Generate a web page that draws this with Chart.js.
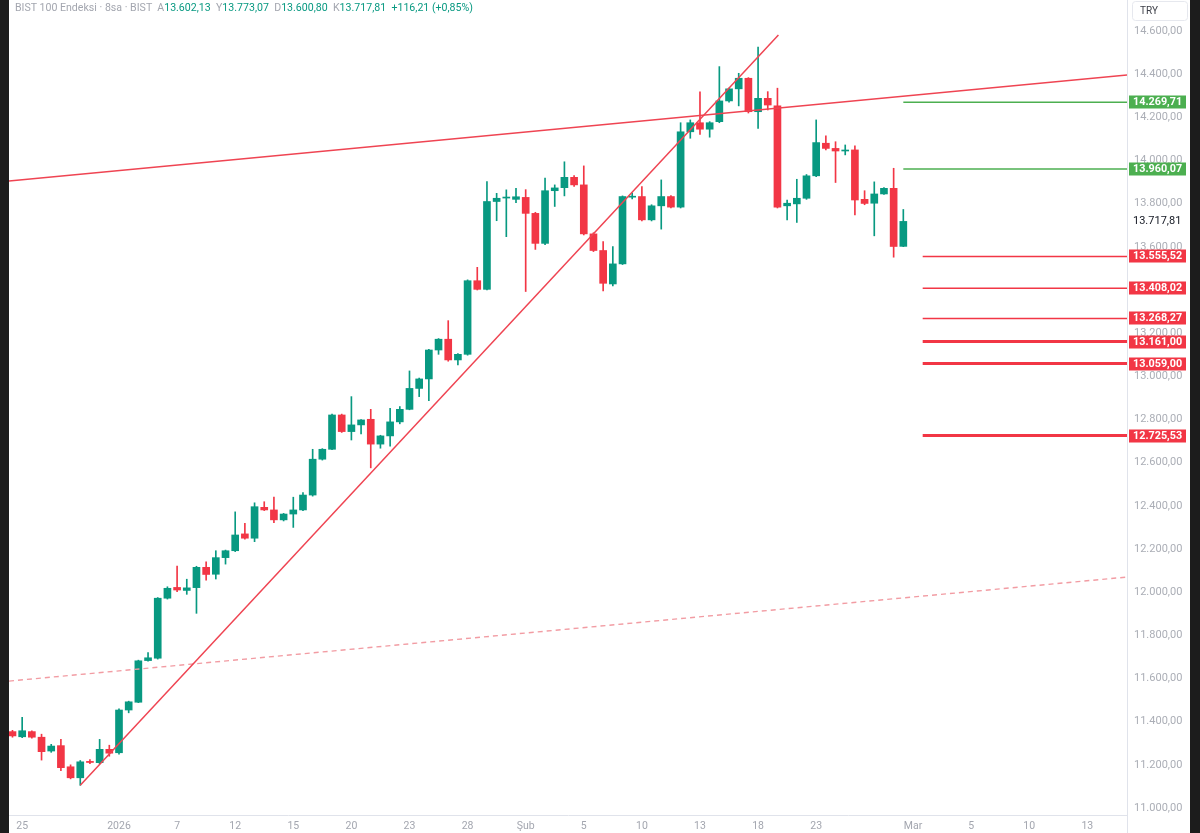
<!DOCTYPE html>
<html lang="tr">
<head>
<meta charset="UTF-8">
<title>BIST 100 Endeksi · 8sa</title>
<script src="https://cdn.jsdelivr.net/npm/chart.js"></script>
<style>
  html, body { margin: 0; padding: 0; background: #1c1c1c; }
  #wrap { position: absolute; left: 9px; top: 0; width: 1181px; height: 833px; background: #fff; }
  #legend { position: absolute; left: 6px; top: 1px; font: 10.6px Roboto, sans-serif; line-height: 14px; color: #a3a6af; white-space: pre; }
  #legend .v { color: #089981; }
</style>
</head>
<body>
<div id="wrap">
  <canvas id="chart"></canvas>
  <div id="legend">BIST 100 Endeksi · 8sa · BIST  A<span class="v">13.602,13</span>  Y<span class="v">13.773,07</span>  D<span class="v">13.600,80</span>  K<span class="v">13.717,81</span>  <span class="v">+116,21 (+0,85%)</span></div>
</div>
<script>
// 8 hour candles, 24 Ara 2025 (2nd bar) .. 27 Şub 2026
const opens = [11354, 11330, 11354, 11328, 11264, 11289, 11191, 11140, 11216, 11210,
  11272, 11256, 11454, 11490, 11683, 11694, 11972, 12022, 12008, 12021,
  12115, 12083, 12160, 12192, 12270, 12250, 12393, 12381, 12335, 12362,
  12381, 12450, 12616, 12662, 12821, 12744, 12775, 12801, 12686, 12724,
  12789, 12847, 12944, 12988, 13122, 13172, 13076, 13102, 13443, 13403,
  13810, 13826, 13820, 13829, 13755, 13616, 13860, 13874, 13922, 13887,
  13660, 13583, 13428, 13521, 13830, 13833, 13725, 13790, 13833, 13784,
  14133, 14175, 14145, 14180, 14276, 14332, 14381, 14226, 14288, 14253,
  13790, 13799, 13825, 13929, 14080, 14056, 14044, 14049, 13820, 13802,
  13845, 13871, 13602.13];
const highs = [11360, 11420, 11358, 11342, 11295, 11318, 11200, 11220, 11224, 11318,
  11291, 11460, 11495, 11685, 11720, 11975, 12025, 12121, 12060, 12120,
  12141, 12192, 12195, 12372, 12319, 12414, 12419, 12440, 12365, 12440,
  12461, 12662, 12665, 12825, 12825, 12906, 12800, 12847, 12727, 12852,
  12860, 13025, 12992, 13125, 13175, 13258, 13105, 13447, 13505, 13902,
  13848, 13864, 13871, 13865, 13760, 13918, 13887, 13994, 13930, 13975,
  13665, 13624, 13601, 13836, 13850, 13879, 13795, 13910, 13838, 14175,
  14188, 14318, 14180, 14435, 14335, 14404, 14384, 14525, 14319, 14335,
  13817, 13913, 13935, 14188, 14114, 14087, 14072, 14068, 13860, 13901,
  13875, 13964, 13773.07];
const lows = [11328, 11326, 11324, 11222, 11258, 11173, 11135, 11105, 11205, 11205,
  11240, 11250, 11441, 11488, 11680, 11690, 11968, 12002, 11990, 11902,
  12056, 12061, 12130, 12188, 12245, 12234, 12378, 12322, 12330, 12300,
  12378, 12445, 12612, 12660, 12740, 12705, 12733, 12576, 12667, 12677,
  12780, 12845, 12906, 12887, 13102, 13070, 13053, 13098, 13400, 13400,
  13721, 13647, 13805, 13393, 13588, 13610, 13787, 13836, 13880, 13655,
  13578, 13396, 13419, 13518, 13822, 13720, 13720, 13682, 13780, 13780,
  14103, 14121, 14108, 14175, 14270, 14253, 14220, 14149, 14234, 13780,
  13725, 13713, 13820, 13925, 14049, 13898, 14026, 13748, 13795, 13651,
  13843, 13552, 13600.80];
const closes = [11334, 11358, 11328, 11261, 11287, 11187, 11140, 11214, 11211, 11272,
  11254, 11454, 11492, 11682, 11696, 11972, 12018, 12010, 12020, 12115,
  12082, 12160, 12192, 12265, 12250, 12396, 12381, 12335, 12362, 12381,
  12450, 12616, 12662, 12821, 12744, 12775, 12798, 12686, 12724, 12789,
  12847, 12944, 12988, 13122, 13172, 13076, 13102, 13443, 13403, 13810,
  13825, 13828, 13832, 13755, 13616, 13860, 13873, 13922, 13887, 13660,
  13583, 13431, 13521, 13833, 13834, 13725, 13790, 13833, 13784, 14133,
  14175, 14145, 14175, 14276, 14332, 14381, 14226, 14288, 14257, 13784,
  13802, 13825, 13929, 14083, 14056, 14044, 14048, 13817, 13801, 13845,
  13871, 13601.6, 13717.81];

// time axis: bar index of first bar of labelled days
const tickIndex = [1, 11, 17, 23, 29, 35, 41, 47, 53, 59, 65, 71, 77, 83, 93, 99, 105, 111];
const tickLabels = ['25', '2026', '7', '12', '15', '20', '23', '28', 'Şub', '5', '10', '13', '18', '23', 'Mar', '5', '10', '13'];

// price axis ticks
const priceTicks = [11000, 11200, 11400, 11600, 11800, 12000, 12200, 12400, 12600,
  12800, 13000, 13200, 13400, 13600, 13800, 14000, 14200, 14400, 14600];

// drawn levels
const greenLevels = [14269.71, 13960.07];
const redLevels = [13555.52, 13408.02, 13268.27];
const redLevelsBold = [13161.00, 13059.00, 12725.53];

// trend lines [barIndex, price]
const riseLine = [[7, 11105], [79.1, 14581]];
const topLine = [[-0.36, 13905], [115.1, 14396]];
const dashLine = [[-0.36, 11588], [115.1, 12070]];

const UP = '#089981', DOWN = '#f23645';
const X_MIN = -0.36, X_MAX = 115.1;

function trNum(v) {
  const parts = v.toFixed(2).split('.');
  return parts[0].replace(/\B(?=(\d{3})+(?!\d))/g, '.') + ',' + parts[1];
}

const idx = opens.map((_, i) => i);
const colors = idx.map(i => closes[i] >= opens[i] ? UP : DOWN);

function seg(pts) { return pts.map(p => ({x: p[0], y: p[1]})); }
function level(v, from) { return [{x: from, y: v}, {x: X_MAX, y: v}]; }

const lineDatasets = [
  {data: seg(riseLine), borderColor: '#ef4452', borderWidth: 1.5},
  {data: seg(topLine), borderColor: '#ef4452', borderWidth: 1.5},
  {data: seg(dashLine), borderColor: '#f29ca3', borderWidth: 1.4, borderDash: [5, 4]}
].concat(greenLevels.map(v => ({data: level(v, 92), borderColor: '#4caf50', borderWidth: 1.5})))
 .concat(redLevels.map(v => ({data: level(v, 94), borderColor: '#f23645', borderWidth: 1.5})))
 .concat(redLevelsBold.map(v => ({data: level(v, 94), borderColor: '#f23645', borderWidth: 3})))
 .map(d => Object.assign({type: 'line', pointRadius: 0, fill: false, order: 0}, d));

const axisExtras = {
  id: 'axisExtras',
  afterDraw(chart) {
    const {ctx, scales: {x, y}} = chart;
    ctx.save();
    // price axis border continues through the time axis
    ctx.strokeStyle = '#e0e3eb';
    ctx.lineWidth = 1;
    ctx.beginPath();
    ctx.moveTo(y.left + 0.5, x.top);
    ctx.lineTo(y.left + 0.5, x.bottom);
    ctx.stroke();

    // currency button
    ctx.fillStyle = '#fff';
    ctx.strokeStyle = '#e6e8ee';
    ctx.beginPath();
    ctx.roundRect(y.left + 5.5, 1.5, 55, 19, 3);
    ctx.fill();
    ctx.stroke();
    ctx.fillStyle = '#3b3e47';
    ctx.font = '10px Roboto, sans-serif';
    ctx.textBaseline = 'middle';
    ctx.textAlign = 'left';
    ctx.fillText('TRY', y.left + 13, 11);

    // level price labels
    const boxes = greenLevels.map(v => [v, '#4caf50'])
      .concat(redLevels.concat(redLevelsBold).map(v => [v, '#f23645']));
    ctx.font = 'bold 10.8px Roboto, sans-serif';
    boxes.forEach(([v, c]) => {
      const py = Math.round(y.getPixelForValue(v));
      ctx.fillStyle = c;
      ctx.fillRect(y.left + 2, py - 6.5, 57, 13);
      ctx.fillStyle = '#fff';
      ctx.fillText(trNum(v), y.left + 6, py + 0.5);
    });

    // last price
    const last = closes[closes.length - 1];
    ctx.font = '11px Roboto, sans-serif';
    ctx.fillStyle = '#131722';
    ctx.fillText(trNum(last), y.left + 6, y.getPixelForValue(last));
    ctx.restore();
  }
};

new Chart(document.getElementById('chart'), {
  type: 'bar',
  data: {
    datasets: lineDatasets.concat([
      {
        data: idx.map(i => ({x: i, y: [lows[i], highs[i]]})),
        backgroundColor: colors,
        barThickness: 1,
        grouped: false,
        order: 2
      },
      {
        data: idx.map(i => ({x: i, y: [opens[i], closes[i]]})),
        backgroundColor: colors,
        barThickness: 7,
        minBarLength: 1,
        grouped: false,
        order: 1
      }
    ])
  },
  options: {
    responsive: true,
    maintainAspectRatio: false,
    animation: false,
    plugins: {legend: {display: false}, tooltip: {enabled: false}},
    layout: {padding: 0},
    scales: {
      x: {
        type: 'linear',
        min: X_MIN,
        max: X_MAX,
        offset: false,
        grid: {display: false, drawTicks: false},
        border: {display: true, color: '#e0e3eb'},
        ticks: {
          autoSkip: false,
          maxRotation: 0,
          padding: 5,
          color: '#a3a6af',
          font: {family: 'Roboto', size: 10.5},
          callback: v => {
            const k = tickIndex.indexOf(v);
            return k < 0 ? '' : tickLabels[k];
          }
        },
        afterBuildTicks: s => { s.ticks = tickIndex.map(v => ({value: v})); },
        afterFit: s => { s.height = 18; s.paddingLeft = 0; s.paddingRight = 0; }
      },
      y: {
        type: 'linear',
        position: 'right',
        min: 10967.6,
        max: 14743.6,
        grid: {display: false, drawTicks: false},
        border: {display: true, color: '#e0e3eb'},
        ticks: {
          padding: 7,
          color: '#abaeb6',
          font: {family: 'Roboto', size: 11},
          callback: v => trNum(v)
        },
        afterBuildTicks: s => { s.ticks = priceTicks.map(v => ({value: v})); },
        afterFit: s => { s.width = 63; s.paddingTop = 0; s.paddingBottom = 0; }
      }
    }
  },
  plugins: [axisExtras]
});
</script>
</body>
</html>
